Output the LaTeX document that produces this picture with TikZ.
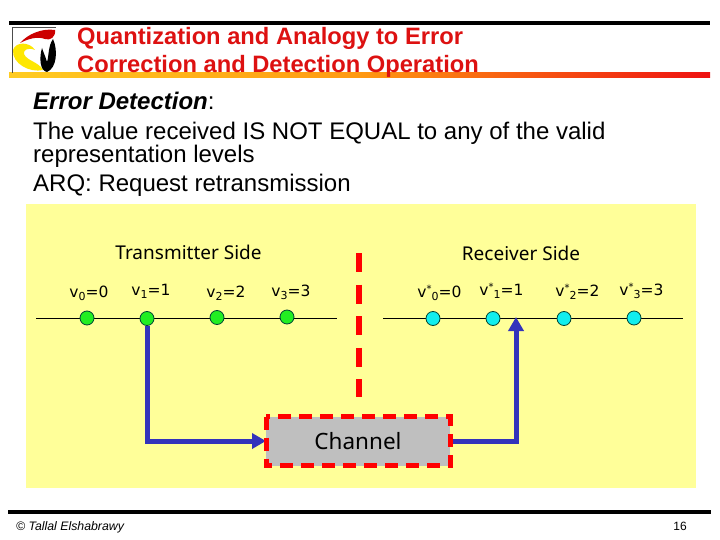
\documentclass[tikz,border=0pt]{standalone}
\usepackage{fontspec}
\setmainfont{Liberation Sans}
\newfontfamily\labfont{DejaVu Sans}
\newfontfamily\sidefont{Noto Sans}
\usetikzlibrary{arrows.meta}
\definecolor{panel}{HTML}{FFFF99}
\definecolor{flow}{HTML}{3333BB}
\definecolor{gdot}{HTML}{22EE22}
\definecolor{cdot}{HTML}{11EEEE}
\definecolor{dkline}{HTML}{004433}
\definecolor{ttl}{HTML}{DD1111}
\definecolor{barl}{HTML}{FFCC22}
\definecolor{barm}{HTML}{FF9911}
\definecolor{barr}{HTML}{EE1111}
\newcommand{\lsub}[1]{\raisebox{-3.5pt}{\fontsize{11}{12}\selectfont #1}}
\newcommand{\lsup}{\raisebox{5pt}{\fontsize{10}{12}\selectfont *}}
\tikzset{
 txt/.style={inner sep=0pt,anchor=base west,align=left},
 ttlt/.style={txt,text=ttl,font=\bfseries\fontsize{23.7}{28}\selectfont},
 body/.style={txt,font=\fontsize{24}{28}\selectfont},
 lab/.style={inner sep=0pt,anchor=base,font=\labfont\fontsize{15.5}{18}\selectfont},
 side/.style={inner sep=0pt,anchor=base,font=\sidefont\fontsize{19}{22}\selectfont},
 gd/.style={circle,draw=dkline,fill=gdot,line width=0.8pt,minimum size=14pt,inner sep=0pt},
 cd/.style={circle,draw=dkline,fill=cdot,line width=0.8pt,minimum size=14pt,inner sep=0pt},
 flowline/.style={draw=flow,line width=5pt},
 flowarrow/.style={flowline,-{Triangle[length=14pt,width=15pt]}},
 chan/.style={fill=black!25,outer sep=0pt,minimum width=184pt,minimum height=49pt,inner sep=0pt,anchor=north west,font=\sidefont\fontsize{22.5}{28}\selectfont},
 chanedge/.style={draw=red,line width=5pt,dash pattern=on 13pt off 8pt},
}
\begin{document}
\begin{tikzpicture}[x=1pt,y=-1pt]
\useasboundingbox (0,0) rectangle (720,540);
\fill[white] (0,0) rectangle (720,540);
% header
\fill[black] (9,21) rectangle (710,25);
\shade[left color=barl,right color=barr,middle color=barm] (9,73) rectangle (710,77.5);
% logo
\draw[line width=0.5pt,draw=black!70] (12,73) -- (12,27) -- (56,27);
\fill[red!80!black] (20,43) .. controls (28,34) and (42,28) .. (55,30) .. controls (56,37) and (50,41) .. (45,39) .. controls (37,36) and (28,39) .. (20,43) -- cycle;
\fill[yellow!90!orange] (13,50) .. controls (16,41) and (30,42) .. (35,50) .. controls (28,47) and (23,50) .. (24,54) .. controls (27,61) and (39,62) .. (43,70) .. controls (30,73) and (12,64) .. (13,50) -- cycle;
\fill[black] (42,48) .. controls (44,54) and (46,58) .. (47,62) .. controls (49,56) and (48,46) .. (53,39) .. controls (58,50) and (57,68) .. (47,72) .. controls (40,71) and (39,58) .. (42,48) -- cycle;
% title and body
\node[ttlt] (t1) at (77,45) {Quantization and Analogy to Error};
\node[ttlt] (t2) at (77,73) {Correction and Detection Operation};
\node[body] (b1) at (33,110) {\textbf{\textit{Error Detection}}:};
\node[body] (b2) at (33,140) {The value received IS NOT EQUAL to any of the valid};
\node[body] (b3) at (33,163) {representation levels};
\node[body] (b4) at (33,192) {ARQ: Request retransmission};
% panel
\fill[panel] (26,204) rectangle (696,488);
\node[side] (ts) at (188.5,259.5) {Transmitter Side};
\node[side] (rs) at (521,260.5) {Receiver Side};
% divider
\coordinate (da) at (359,253);
\coordinate (db) at (359,397);
\draw[red,line width=6pt,dash pattern=on 19pt off 12.6pt] (da) -- (db);
% scales
\coordinate (tl) at (36,318); \coordinate (tr) at (337,318);
\coordinate (rl) at (383,318); \coordinate (rr) at (683,318);
\draw[black,line width=0.8pt] (tl) -- (tr);
\draw[black,line width=0.8pt] (rl) -- (rr);
\node[lab] (l0) at (89,297) {v\lsub{0}=0};
\node[lab] (l1) at (151,295) {v\lsub{1}=1};
\node[lab] (l2) at (226,297) {v\lsub{2}=2};
\node[lab] (l3) at (291,296) {v\lsub{3}=3};
\node[lab] (r0) at (439.5,297) {v\lsup\lsub{0}=0};
\node[lab] (r1) at (501.5,295) {v\lsup\lsub{1}=1};
\node[lab] (r2) at (577.5,296) {v\lsup\lsub{2}=2};
\node[lab] (r3) at (641.5,295) {v\lsup\lsub{3}=3};
% channel
\node[chan] (ch) at (266,416.5) {\raisebox{-1pt}{Channel}};
% connectors
\coordinate (rin) at (516,317);
\node[gd] (g0) at (87,318) {};
\node[gd] (g1) at (147,318.5) {};
\node[gd] (g2) at (217,317.5) {};
\node[gd] (g3) at (287,317) {};
\node[cd] (c0) at (433,318.5) {};
\node[cd] (c1) at (493,318.5) {};
\node[cd] (c2) at (564,318.5) {};
\node[cd] (c3) at (634,318) {};
\draw[flowarrow] (g1.south) |- (ch.west);
\draw[flowarrow] (ch.east) -| (rin);
\draw[chanedge] (ch.north west) rectangle (ch.south east);
% footer
\fill[black] (8,510) rectangle (711,514);
\node[txt,font=\itshape\fontsize{12.3}{14}\selectfont] (cp) at (16,530) {© Tallal Elshabrawy};
\node[txt,anchor=base east,font=\fontsize{12}{14}\selectfont] (pg) at (687,530) {16};
\end{tikzpicture}
\end{document}
